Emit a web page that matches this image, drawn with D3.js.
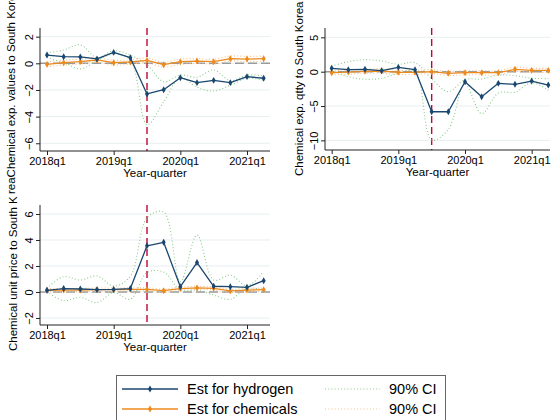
<!DOCTYPE html>
<html>
<head>
<meta charset="utf-8">
<script src="https://cdn.jsdelivr.net/npm/d3@7"></script>
<style>
  body { margin: 0; background: #fff; }
  svg { display: block; font-family: "Liberation Sans", Arial, sans-serif; }
</style>
</head>
<body>
<svg id="chart" width="551" height="420"></svg>
<script>
// quarters 2018q1 .. 2021q2
var quarters = ["2018q1","2018q2","2018q3","2018q4","2019q1","2019q2","2019q3","2019q4",
                "2020q1","2020q2","2020q3","2020q4","2021q1","2021q2"];
var xTicks = ["2018q1","2019q1","2020q1","2021q1"];
var eventQuarter = "2019q3";

// export values
var hydVal    = [0.62, 0.50, 0.48, 0.33, 0.82, 0.42, -2.30, -1.98, -1.08, -1.45, -1.28, -1.45, -1.00, -1.12];
var hydValHi  = [0.78, 1.00, 1.38, 0.42, 0.95, 0.62, -0.10, -1.38, -0.88, -1.05, -0.50, -1.30, -0.88, -0.95];
var hydValLo  = [0.45, 0.05, -0.42, 0.20, 0.72, 0.25, -4.60, -2.90, -1.10, -1.80, -2.08, -1.65, -1.12, -1.28];
var chemVal   = [-0.08, 0.05, 0.13, 0.25, 0.05, 0.10, 0.22, -0.10, 0.12, 0.17, 0.12, 0.35, 0.32, 0.35];
var chemValHi = [0.10, 0.23, 0.31, 0.42, 0.23, 0.27, 0.40, 0.08, 0.32, 0.35, 0.30, 0.55, 0.52, 0.55];
var chemValLo = [-0.26, -0.13, -0.05, 0.08, -0.13, -0.07, 0.04, -0.28, -0.08, -0.01, -0.06, 0.18, 0.12, 0.15];

// export quantities
var hydQty    = [0.49, 0.29, 0.34, 0.15, 0.63, 0.29, -5.83, -5.83, -1.46, -3.64, -1.70, -1.84, -1.36, -1.94];
var hydQtyHi  = [0.80, 1.46, 1.75, 1.55, 1.07, 1.30, -1.05, -2.90, -1.15, -1.07, -0.50, -0.58, -0.95, -1.00];
var hydQtyLo  = [0.20, -0.73, -1.10, -0.97, -0.24, 0.00, -9.95, -8.40, -1.84, -6.10, -3.10, -3.00, -1.60, -2.70];
var chemQty   = [-0.15, -0.05, 0.05, 0.10, -0.10, -0.10, 0.00, -0.24, -0.15, -0.15, -0.15, 0.34, 0.19, 0.19];
var chemQtyHi = [0.15, 0.25, 0.35, 0.40, 0.20, 0.20, 0.30, 0.06, 0.15, 0.15, 0.15, 0.64, 0.49, 0.49];
var chemQtyLo = [-0.45, -0.35, -0.25, -0.20, -0.40, -0.40, -0.30, -0.54, -0.45, -0.45, -0.45, 0.04, -0.11, -0.11];

// unit prices
var hydPrc    = [0.13, 0.26, 0.23, 0.18, 0.20, 0.26, 3.55, 3.82, 0.41, 2.26, 0.44, 0.41, 0.36, 0.87];
var hydPrcHi  = [0.28, 1.18, 0.92, 1.23, 0.46, 1.20, 5.70, 6.15, 0.80, 4.38, 0.92, 1.30, 0.46, 1.56];
var hydPrcLo  = [0.03, -0.67, -0.41, -0.82, -0.05, -0.56, 1.49, 1.54, 0.15, 0.14, -0.23, -0.56, 0.28, 0.15];
var chemPrc   = [0.13, 0.15, 0.15, 0.18, 0.18, 0.20, 0.20, 0.10, 0.26, 0.31, 0.28, 0.08, 0.15, 0.18];
var chemPrcHi = [0.25, 0.27, 0.27, 0.30, 0.30, 0.32, 0.32, 0.22, 0.38, 0.43, 0.40, 0.20, 0.27, 0.30];
var chemPrcLo = [0.01, 0.03, 0.03, 0.06, 0.06, 0.08, 0.08, -0.02, 0.14, 0.19, 0.16, -0.04, 0.03, 0.06];

var legendLabels = ["Est for hydrogen", "Est for chemicals", "90% CI", "90% CI"];

var BLUE = "#1a476f", ORANGE = "#ec8a1e", GREEN = "#8cc98a", LORANGE = "#f6c08a";
var RED = "#c10534", GRID = "#e8eff1";

var svg = d3.select("#chart");

function plot_panel(p) {
  var g = svg.append("g");
  var clipId = "clip" + p.id;
  svg.append("clipPath").attr("id", clipId)
    .append("rect").attr("x", p.box[0]).attr("y", p.box[1]).attr("width", p.box[2]).attr("height", p.box[3]);

  var x = d3.scaleLinear().domain(p.xdom).range(p.xr);
  var y = d3.scaleLinear().domain(p.ydom).range(p.yr);
  var qi = function(q) { return quarters.indexOf(q); };

  // grid
  g.selectAll(".grid").data(p.yticks).enter().append("line")
    .attr("x1", p.xr[0]).attr("x2", p.xr[1])
    .attr("y1", function(d) { return y(d); }).attr("y2", function(d) { return y(d); })
    .attr("stroke", GRID).attr("stroke-width", 1);

  // zero reference
  g.append("line")
    .attr("x1", p.xr[0]).attr("x2", p.xr[1]).attr("y1", y(0)).attr("y2", y(0))
    .attr("stroke", "#9a9a9a").attr("stroke-width", 1.4).attr("stroke-dasharray", "9,4");

  // event line
  g.append("line")
    .attr("x1", x(qi(eventQuarter))).attr("x2", x(qi(eventQuarter)))
    .attr("y1", p.yr[1]).attr("y2", p.yr[0])
    .attr("stroke", RED).attr("stroke-width", 1.4).attr("stroke-dasharray", "7,4");

  var smooth = d3.line().curve(d3.curveCatmullRom.alpha(0.5))
    .x(function(d, i) { return x(i); }).y(function(d) { return y(d); });
  var straight = d3.line()
    .x(function(d, i) { return x(i); }).y(function(d) { return y(d); });

  [[p.chemHi, LORANGE], [p.chemLo, LORANGE], [p.hydHi, GREEN], [p.hydLo, GREEN]].forEach(function(s) {
    g.append("path").datum(s[0])
      .attr("fill", "none").attr("stroke", s[1]).attr("stroke-width", 1.1)
      .attr("stroke-dasharray", "1,2.2").attr("d", smooth);
  });

  [[p.chem, ORANGE], [p.hyd, BLUE]].forEach(function(s) {
    g.append("path").datum(s[0])
      .attr("fill", "none").attr("stroke", s[1]).attr("stroke-width", 1.3)
      .attr("stroke-linejoin", "round").attr("d", straight);
    g.selectAll(null).data(s[0]).enter().append("path")
      .attr("transform", function(d, i) { return "translate(" + x(i) + "," + y(d) + ")"; })
      .attr("d", d3.symbol().type(d3.symbolDiamond).size(14))
      .attr("fill", s[1]);
  });

  // axes
  var yAxis = d3.axisLeft(y).tickValues(p.yticks).tickSize(4).tickFormat(d3.format("d"));
  var ya = g.append("g").attr("transform", "translate(" + p.xr[0] + ",0)").call(yAxis);
  ya.select(".domain").attr("d", "M0," + p.yr[0] + "V" + p.yr[1]);
  ya.selectAll("text")
    .attr("x", 0).attr("y", -7).attr("dy", 0)
    .attr("transform", "rotate(-90)")
    .attr("text-anchor", "middle")
    .attr("font-size", "11px").attr("font-family", null).attr("fill", "#000");

  var xAxis = d3.axisBottom(x).tickValues(xTicks.map(qi)).tickSize(4).tickPadding(2)
    .tickFormat(function(d) { return quarters[d]; });
  var xa = g.append("g").attr("transform", "translate(0," + p.yr[0] + ")").call(xAxis);
  xa.select(".domain").attr("d", "M" + p.xr[0] + ",0H" + p.xr[1]);
  xa.selectAll("text").attr("font-size", "11px").attr("font-family", null).attr("fill", "#000");
  g.selectAll(".domain, .tick line").attr("stroke", "#222");

  g.append("text")
    .attr("x", (p.xr[0] + p.xr[1]) / 2).attr("y", p.yr[0] + 26)
    .attr("text-anchor", "middle").attr("font-size", "11.5px")
    .text("Year-quarter");

  g.append("g").attr("clip-path", "url(#" + clipId + ")")
    .append("text")
    .attr("transform", "translate(" + p.labelPos[0] + "," + p.labelPos[1] + ") rotate(-90)")
    .attr("font-size", "11.5px")
    .text(p.ylabel);
}

plot_panel({id: 1, box: [0, 0, 275, 196], xr: [40, 270], xdom: [-0.42, 13.38], yr: [151, 28], ydom: [-6.58, 2.65],
  yticks: [-6, -4, -2, 0, 2], hyd: hydVal, hydHi: hydValHi, hydLo: hydValLo,
  chem: chemVal, chemHi: chemValHi, chemLo: chemValLo,
  ylabel: "reaChemical exp. values to South Korea", labelPos: [15, 194]});

plot_panel({id: 2, box: [280, 0, 271, 196], xr: [325, 550], xdom: [-0.4, 13.1], yr: [150, 28], ydom: [-11.4, 6.36],
  yticks: [-10, -5, 0, 5], hyd: hydQty, hydHi: hydQtyHi, hydLo: hydQtyLo,
  chem: chemQty, chemHi: chemQtyHi, chemLo: chemQtyLo,
  ylabel: "Chemical exp. qtty to South Korea", labelPos: [303, 176]});

plot_panel({id: 3, box: [0, 196, 275, 170], xr: [40, 270], xdom: [-0.42, 13.38], yr: [325, 205], ydom: [-2.54, 6.69],
  yticks: [-2, 0, 2, 4, 6], hyd: hydPrc, hydHi: hydPrcHi, hydLo: hydPrcLo,
  chem: chemPrc, chemHi: chemPrcHi, chemLo: chemPrcLo,
  ylabel: "Chemical unit price to South Korea", labelPos: [17, 351]});

// legend
var lg = svg.append("g");
lg.append("rect").attr("x", 116.5).attr("y", 375.5).attr("width", 329).attr("height", 60)
  .attr("fill", "#fff").attr("stroke", "#666").attr("stroke-width", 1);
var rows = [389, 409];
[[BLUE, 0], [ORANGE, 1]].forEach(function(s) {
  var yy = rows[s[1]];
  lg.append("line").attr("x1", 122).attr("x2", 178).attr("y1", yy).attr("y2", yy)
    .attr("stroke", s[0]).attr("stroke-width", 1.3);
  lg.append("path").attr("transform", "translate(150," + yy + ")")
    .attr("d", d3.symbol().type(d3.symbolDiamond).size(14)).attr("fill", s[0]);
  lg.append("text").attr("x", 187).attr("y", yy + 5).attr("font-size", "14.5px").text(legendLabels[s[1]]);
});
[[GREEN, 0], [LORANGE, 1]].forEach(function(s) {
  var yy = rows[s[1]];
  lg.append("line").attr("x1", 325).attr("x2", 380).attr("y1", yy).attr("y2", yy)
    .attr("stroke", s[0]).attr("stroke-width", 1.1).attr("stroke-dasharray", "1,2.2");
  lg.append("text").attr("x", 389).attr("y", yy + 5).attr("font-size", "14.5px").text(legendLabels[2 + s[1]]);
});
</script>
</body>
</html>
